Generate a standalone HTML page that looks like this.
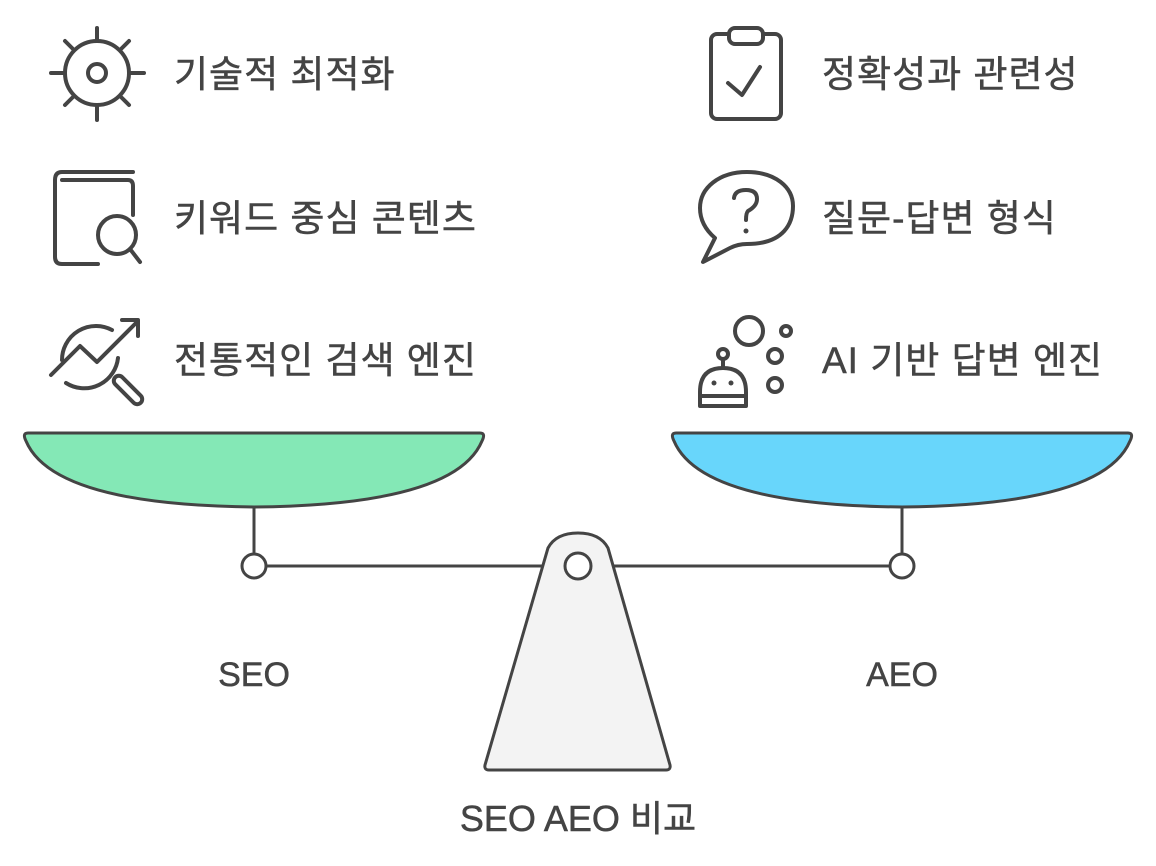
<!DOCTYPE html>
<html><head><meta charset="utf-8"><style>
body{margin:0;background:#fff;}
svg{display:block}
text{font-family:"Liberation Sans","Noto Sans CJK KR",sans-serif;fill:#444;stroke:#444;stroke-width:0.5;}
</style></head><body>
<svg width="1156" height="866" viewBox="0 0 1156 866" xmlns="http://www.w3.org/2000/svg">
<g fill="none" stroke="#444" stroke-width="4" stroke-linecap="round" stroke-linejoin="round">
<circle cx="97" cy="73" r="32"/><circle cx="97" cy="73" r="9"/>
<line x1="97" y1="28" x2="97" y2="41"/><line x1="97" y1="105" x2="97" y2="120"/>
<line x1="51" y1="73" x2="65" y2="73"/><line x1="129" y1="73" x2="144" y2="73"/>
<line x1="65" y1="41" x2="74" y2="50"/><line x1="129" y1="41" x2="120" y2="50"/>
<line x1="65" y1="105" x2="74" y2="96"/><line x1="129" y1="105" x2="120" y2="96"/>
<path d="M133 172 H62 Q55 172 55 180 V257 Q55 264 62 264 H98"/>
<path d="M62 180 H128 Q133 180 133 186 V215"/>
<circle cx="117" cy="235" r="19"/><line x1="130" y1="249" x2="140" y2="262"/>
<path d="M62 360 A34 34 0 0 1 112 330"/>
<path d="M118 358 A34 34 0 0 1 66 383"/>
<path d="M51 375 L80 346 L97 362 L137 322"/><path d="M122 320 H138 V336"/>
<rect x="123" y="372" width="10" height="36" rx="5" transform="rotate(-45 128 390)"/>
<rect x="711" y="34" width="70" height="85" rx="6"/>
<rect x="729" y="28" width="34" height="16" rx="6" fill="#fff"/>
<path d="M728 83 L742 95 L760 67"/>
<path d="M747 244 C785 244 793 222 793 206 C793 187 775 172 747 172 C719 172 700 188 700 208 C700 222 708 232 715 238 L703 262 L730 248 Q738 244 747 244 Z"/>
<path d="M734 198 Q735 190 746 190 Q757 190 757 199 Q757 206 748 211 Q746 213 746 220"/>
<circle cx="749" cy="331" r="14"/><circle cx="786" cy="331" r="5"/>
<circle cx="775" cy="356" r="7"/><circle cx="775" cy="385" r="7"/>
<circle cx="723" cy="354" r="5"/><line x1="723" y1="359" x2="723" y2="368"/>
<path d="M700 406 V392 Q700 368 723 368 Q746 368 746 392 V406 Z"/>
<line x1="700" y1="396" x2="746" y2="396"/>
</g>
<circle cx="714" cy="383" r="2.5" fill="#444"/><circle cx="731" cy="383" r="2.5" fill="#444"/>
<circle cx="746" cy="231" r="2.5" fill="#444"/>

<g font-size="37" letter-spacing="1">
<text x="174" y="87">기술적 최적화</text>
<text x="174" y="231">키워드 중심 콘텐츠</text>
<text x="174" y="373">전통적인 검색 엔진</text>
<text x="822" y="87">정확성과 관련성</text>
<text x="822" y="231">질문-답변 형식</text>
<text x="822" y="373">AI 기반 답변 엔진</text>
</g>

<g stroke="#444" stroke-width="3">
<line x1="254" y1="505" x2="254" y2="556"/>
<line x1="902" y1="505" x2="902" y2="556"/>
<line x1="266" y1="566" x2="890" y2="566"/>
<path d="M28 433 H480 Q486 433 482 441 Q455 505 254 507 Q53 505 26 441 Q22 433 28 433 Z" fill="#84e8b6"/>
<path d="M676 433 H1128 Q1134 433 1130 441 Q1103 505 902 507 Q701 505 674 441 Q670 433 676 433 Z" fill="#68d6fb"/>
<circle cx="254" cy="566" r="12" fill="#fff"/>
<circle cx="902" cy="566" r="12" fill="#fff"/>
<path d="M548 548 Q556 533 578 533 Q600 533 608 548 L670 765 Q671 770 666 770 H489 Q484 770 485 765 Z" fill="#f3f3f3"/>
<circle cx="578" cy="566" r="13" fill="#fff"/>
</g>
<g font-size="34" text-anchor="middle">
<text x="254" y="686">SEO</text>
<text x="902" y="686">AEO</text>
<text x="578" y="831" font-size="36">SEO AEO 비교</text>
</g>
</svg>
</body></html>
